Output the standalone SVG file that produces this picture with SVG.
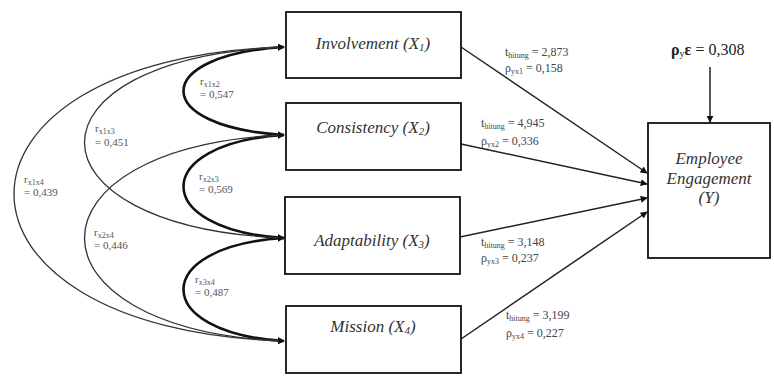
<svg xmlns="http://www.w3.org/2000/svg" width="774" height="376" viewBox="0 0 774 376">
<style>
text{font-family:"Liberation Serif","Times New Roman",Tinos,"DejaVu Serif",serif}
.box{fill:#fff;stroke:#111;stroke-width:1.8}
.node{font-style:italic;font-size:17px;fill:#333;text-anchor:middle}
.lbl{font-size:12px;fill:#444}
.rl{font-size:11px;fill:#555}
.sub{font-size:8px}
.thin{fill:none;stroke:#333;stroke-width:1.3}
.thick{fill:none;stroke:#111;stroke-width:2.6}
.path{fill:none;stroke:#222;stroke-width:1.5}
</style>
<defs>
<marker id="ah" viewBox="0 0 10 10" refX="9" refY="5" markerWidth="7" markerHeight="7" markerUnits="userSpaceOnUse" orient="auto-start-reverse">
<path d="M0,0 L10,5 L0,10 z" fill="#111"/>
</marker>
</defs>
<rect width="774" height="376" fill="#fff"/>
<g id="connectors">
<path class="thick" d="M284,47 C150,55 150,127 284,135" marker-start="url(#ah)" marker-end="url(#ah)"/>
<path class="thick" d="M284,135 C150,143 150,230 284,238" marker-start="url(#ah)" marker-end="url(#ah)"/>
<path class="thick" d="M284,238 C150,246 150,333 284,341" marker-start="url(#ah)" marker-end="url(#ah)"/>
<path class="thin" d="M284,47 C18,58 18,227 284,238" marker-start="url(#ah)" marker-end="url(#ah)"/>
<path class="thin" d="M284,135 C18,146 18,330 284,341" marker-start="url(#ah)" marker-end="url(#ah)"/>
<path class="thin" d="M284,47 C-76,58 -76,330 284,341" marker-start="url(#ah)" marker-end="url(#ah)"/>
<line class="path" x1="461" y1="47" x2="647" y2="173" marker-end="url(#ah)"/>
<line class="path" x1="461" y1="144" x2="647" y2="184" marker-end="url(#ah)"/>
<line class="path" x1="460" y1="237" x2="647" y2="198" marker-end="url(#ah)"/>
<line class="path" x1="461" y1="339" x2="647" y2="212" marker-end="url(#ah)"/>
<line class="path" x1="710" y1="67" x2="710" y2="122" marker-end="url(#ah)"/>
</g>
<g id="labels">
<text class="rl" x="200" y="85">r<tspan class="sub" dy="2">x1x2</tspan></text>
<text class="rl" x="200" y="98">= 0,547</text>
<text class="rl" x="199" y="180">r<tspan class="sub" dy="2">x2x3</tspan></text>
<text class="rl" x="199" y="193">= 0,569</text>
<text class="rl" x="195" y="283">r<tspan class="sub" dy="2">x3x4</tspan></text>
<text class="rl" x="195" y="296">= 0,487</text>
<text class="rl" x="95" y="132">r<tspan class="sub" dy="2">x1x3</tspan></text>
<text class="rl" x="95" y="146">= 0,451</text>
<text class="rl" x="94" y="236">r<tspan class="sub" dy="2">x2x4</tspan></text>
<text class="rl" x="94" y="249">= 0,446</text>
<text class="rl" x="24" y="183">r<tspan class="sub" dy="2">x1x4</tspan></text>
<text class="rl" x="24" y="196">= 0,439</text>
<text class="lbl" x="505" y="56">t<tspan class="sub" dy="2">hitung</tspan><tspan dy="-2"> = 2,873</tspan></text>
<text class="lbl" x="505" y="72">ρ<tspan class="sub" dy="2">yx1</tspan><tspan dy="-2"> = 0,158</tspan></text>
<text class="lbl" x="481" y="127">t<tspan class="sub" dy="2">hitung</tspan><tspan dy="-2"> = 4,945</tspan></text>
<text class="lbl" x="481" y="145">ρ<tspan class="sub" dy="2">yx2</tspan><tspan dy="-2"> = 0,336</tspan></text>
<text class="lbl" x="481" y="246">t<tspan class="sub" dy="2">hitung</tspan><tspan dy="-2"> = 3,148</tspan></text>
<text class="lbl" x="481" y="262">ρ<tspan class="sub" dy="2">yx3</tspan><tspan dy="-2"> = 0,237</tspan></text>
<text class="lbl" x="506" y="319">t<tspan class="sub" dy="2">hitung</tspan><tspan dy="-2"> = 3,199</tspan></text>
<text class="lbl" x="506" y="337">ρ<tspan class="sub" dy="2">yx4</tspan><tspan dy="-2"> = 0,227</tspan></text>
<text x="671" y="55" font-size="16px" fill="#222"><tspan font-weight="bold">ρ</tspan><tspan font-size="10px" dy="2">y</tspan><tspan dy="-2" font-weight="bold">ε</tspan> = 0,308</text>
</g>
<g id="n1">
<rect class="box" x="286" y="12" width="175" height="66"/>
<text class="node" x="373" y="49">Involvement (X<tspan font-size="11px" dy="2">1</tspan><tspan dy="-2">)</tspan></text>
</g>
<g id="n2">
<rect class="box" x="286" y="103" width="175" height="67"/>
<text class="node" x="373" y="133">Consistency (X<tspan font-size="11px" dy="2">2</tspan><tspan dy="-2">)</tspan></text>
</g>
<g id="n3">
<rect class="box" x="285" y="197" width="175" height="77"/>
<text class="node" x="372" y="246">Adaptability (X<tspan font-size="11px" dy="2">3</tspan><tspan dy="-2">)</tspan></text>
</g>
<g id="n4">
<rect class="box" x="286" y="306" width="175" height="67"/>
<text class="node" x="373" y="332">Mission (X<tspan font-size="11px" dy="2">4</tspan><tspan dy="-2">)</tspan></text>
</g>
<g id="y">
<rect class="box" x="648" y="123" width="122" height="135"/>
<text class="node" x="709" y="164" font-size="15px">Employee</text>
<text class="node" x="709" y="184" font-size="15px">Engagement</text>
<text class="node" x="709" y="203" font-size="15px">(Y)</text>
</g>
</svg>
